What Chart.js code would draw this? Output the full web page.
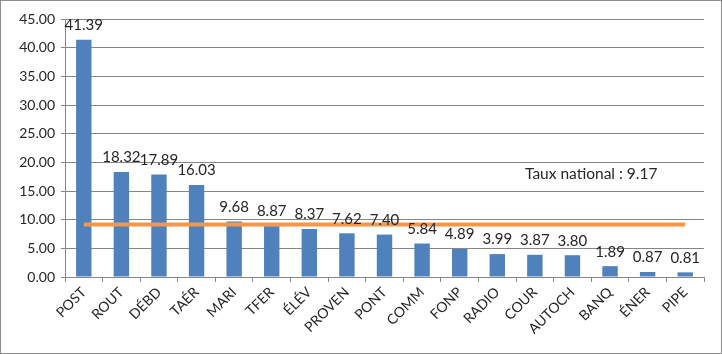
<!DOCTYPE html>
<html>
<head>
<meta charset="utf-8">
<script src="https://cdn.jsdelivr.net/npm/chart.js@4/dist/chart.umd.min.js"></script>
<style>
  html, body { margin: 0; padding: 0; background: #fff; }
  #wrap { position: absolute; left: 0; top: 0; width: 720px; height: 352px; border: 1px solid #8c8c8c; }
  canvas { display: block; }
</style>
</head>
<body>
<div id="wrap"><canvas id="c" width="720" height="352"></canvas></div>
<script>
const categories = ["POST","ROUT","DÉBD","TAÉR","MARI","TFER","ÉLÉV","PROVEN","PONT","COMM","FONP","RADIO","COUR","AUTOCH","BANQ","ÉNER","PIPE"];
const values = [41.39,18.32,17.89,16.03,9.68,8.87,8.37,7.62,7.40,5.84,4.89,3.99,3.87,3.80,1.89,0.87,0.81];
const nationalRate = 9.17;
const nationalLabel = "Taux national : 9.17";
const yTicks = [0,5,10,15,20,25,30,35,40,45];

const FONT = "Lato, 'Open Sans', sans-serif";

const labelPlugin = {
  id: 'labels',
  afterDatasetsDraw(chart) {
    const ctx = chart.ctx;
    const meta = chart.getDatasetMeta(0);
    ctx.save();
    ctx.font = "15px " + FONT;
    ctx.fillStyle = "#262626";
    ctx.textAlign = "center";
    ctx.textBaseline = "bottom";
    meta.data.forEach((bar, i) => {
      ctx.fillText(values[i].toFixed(2), bar.x, bar.y - 7);
    });
    const xs = chart.scales.x, ys = chart.scales.y;
    ctx.font = "15.5px " + FONT;
    const tx = (xs.getPixelForValue(13) + xs.getPixelForValue(14)) / 2;
    ctx.textBaseline = "middle";
    ctx.fillText(nationalLabel, tx, ys.getPixelForValue(18));
    ctx.restore();
  }
};

new Chart(document.getElementById('c'), {
  type: 'bar',
  data: {
    labels: categories,
    datasets: [
      {
        type: 'bar',
        data: values,
        backgroundColor: '#4F81BD',
        barPercentage: 0.41,
        categoryPercentage: 1.0,
        order: 2
      },
      {
        type: 'line',
        data: categories.map(() => nationalRate),
        borderColor: '#F79646',
        borderWidth: 4,
        pointRadius: 0,
        fill: false,
        order: 1
      }
    ]
  },
  options: {
    responsive: false,
    animation: false,
    layout: { padding: { left: 4, right: 17, top: 18, bottom: 0 } },
    plugins: { legend: { display: false }, tooltip: { enabled: false } },
    scales: {
      x: {
        offset: true,
        grid: { display: true, drawOnChartArea: false, drawTicks: true, tickLength: 5, color: '#868686', offset: true },
        border: { color: '#868686' },
        ticks: { font: { family: FONT, size: 14 }, color: '#262626', maxRotation: 45, minRotation: 45, padding: 2 },
        afterFit(s) { s.height = 76; }
      },
      y: {
        min: 0, max: 45,
        afterBuildTicks(s) { s.ticks = yTicks.map(v => ({ value: v })); },
        grid: { color: '#868686', drawTicks: true, tickLength: 4 },
        border: { color: '#868686' },
        ticks: { font: { family: FONT, size: 14 }, color: '#262626', padding: 6, callback: v => Number(v).toFixed(2) },
        afterFit(s) { s.width = 60; }
      }
    }
  },
  plugins: [labelPlugin]
});
</script>
</body>
</html>
